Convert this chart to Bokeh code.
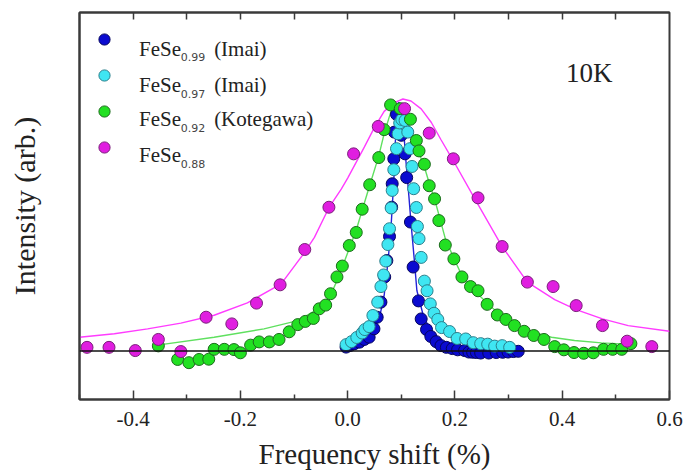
from bokeh.plotting import figure
from bokeh.models import Range1d, LinearAxis, FixedTicker, Span, Label, Legend, LegendItem
from bokeh.embed import file_html
from bokeh.resources import INLINE

# ---- NMR line shapes at 10 K: frequency shift (%) vs normalised intensity ----

# FeSe0.99 (Imai)
fese099_shift = [-0.003, 0.004, 0.012, 0.022, 0.031, 0.040, 0.049, 0.055, 0.062, 0.069,
                 0.073, 0.078, 0.082, 0.083, 0.086, 0.087, 0.091, 0.100, 0.107, 0.110,
                 0.117, 0.122, 0.132, 0.137, 0.147, 0.155, 0.165, 0.174, 0.184, 0.195,
                 0.205, 0.218, 0.226, 0.233, 0.240, 0.248, 0.263, 0.277, 0.289, 0.299,
                 0.309, 0.318]
fese099_int = [0.016, 0.022, 0.029, 0.036, 0.047, 0.056, 0.090, 0.137, 0.198, 0.300,
               0.366, 0.464, 0.582, 0.677, 0.778, 0.886, 0.958, 0.873, 0.798, 0.702,
               0.522, 0.340, 0.203, 0.130, 0.087, 0.059, 0.038, 0.022, 0.015, 0.010,
               0.005, 0.002, -0.004, -0.005, -0.006, -0.008, -0.008, -0.006, -0.005, -0.004,
               -0.002, -0.001]
fese099_fit_shift = [-0.003, 0.025, 0.044, 0.059, 0.068, 0.075, 0.081, 0.086, 0.089, 0.092,
                     0.095, 0.099, 0.103, 0.105, 0.109, 0.114, 0.118, 0.124, 0.129, 0.140,
                     0.156, 0.174, 0.202, 0.249, 0.318]
fese099_fit_int = [0.014, 0.034, 0.067, 0.132, 0.225, 0.358, 0.508, 0.690, 0.852, 0.974,
                   1.006, 0.998, 0.962, 0.873, 0.759, 0.630, 0.520, 0.374, 0.245, 0.152,
                   0.071, 0.030, 0.010, 0.002, 0.000]

# FeSe0.97 (Imai)
fese097_shift = [-0.003, 0.007, 0.017, 0.027, 0.032, 0.040, 0.047, 0.056, 0.062, 0.067,
                 0.071, 0.075, 0.078, 0.081, 0.083, 0.086, 0.091, 0.094, 0.097, 0.101,
                 0.107, 0.112, 0.116, 0.120, 0.123, 0.128, 0.130, 0.133, 0.137, 0.143,
                 0.148, 0.154, 0.161, 0.168, 0.175, 0.190, 0.204, 0.220, 0.234, 0.248,
                 0.261, 0.274, 0.288, 0.302]
fese097_int = [0.026, 0.038, 0.055, 0.073, 0.087, 0.099, 0.144, 0.198, 0.261, 0.308,
               0.364, 0.431, 0.495, 0.579, 0.650, 0.734, 0.819, 0.879, 0.923, 0.937,
               0.933, 0.886, 0.819, 0.747, 0.657, 0.581, 0.504, 0.455, 0.379, 0.283,
               0.244, 0.191, 0.153, 0.128, 0.095, 0.079, 0.051, 0.049, 0.034, 0.030,
               0.028, 0.020, 0.022, 0.015]

# FeSe0.92 (Kotegawa)
fese092_shift = [-0.353, -0.317, -0.296, -0.277, -0.259, -0.249, -0.230, -0.212, -0.200, -0.181,
                 -0.165, -0.146, -0.128, -0.109, -0.093, -0.079, -0.064, -0.053, -0.041, -0.032,
                 -0.020, -0.010, 0.003, 0.016, 0.027, 0.041, 0.058, 0.068, 0.080, 0.098,
                 0.117, 0.128, 0.133, 0.143, 0.152, 0.162, 0.170, 0.182, 0.198, 0.213,
                 0.229, 0.243, 0.260, 0.279, 0.295, 0.311, 0.329, 0.347, 0.366, 0.386,
                 0.403, 0.422, 0.440, 0.458, 0.477, 0.494, 0.511, 0.528]
fese092_int = [0.021, -0.034, -0.047, -0.034, -0.033, 0.007, 0.007, 0.006, -0.007, 0.024,
               0.037, 0.037, 0.047, 0.078, 0.107, 0.120, 0.132, 0.171, 0.186, 0.232,
               0.300, 0.344, 0.427, 0.480, 0.574, 0.673, 0.783, 0.896, 0.996, 0.981,
               0.938, 0.852, 0.810, 0.756, 0.669, 0.616, 0.528, 0.429, 0.373, 0.300,
               0.261, 0.244, 0.189, 0.146, 0.128, 0.103, 0.080, 0.063, 0.047, 0.018,
               0.005, -0.006, -0.009, -0.007, 0.007, 0.007, 0.007, 0.030]
fese092_fit_shift = [-0.348, -0.249, -0.156, -0.093, -0.050, -0.032, -0.020, -0.010, 0.003, 0.016,
                     0.027, 0.041, 0.058, 0.068, 0.080, 0.087, 0.098, 0.109, 0.122, 0.133,
                     0.143, 0.152, 0.162, 0.174, 0.182, 0.198, 0.212, 0.236, 0.268, 0.299,
                     0.336, 0.380, 0.423, 0.473, 0.510]
fese092_fit_int = [0.026, 0.056, 0.090, 0.123, 0.177, 0.225, 0.285, 0.340, 0.415, 0.490,
                   0.570, 0.670, 0.790, 0.880, 0.965, 0.995, 0.990, 0.945, 0.870, 0.800,
                   0.745, 0.680, 0.615, 0.520, 0.455, 0.375, 0.310, 0.245, 0.177, 0.123,
                   0.083, 0.056, 0.043, 0.033, 0.029]

# FeSe0.88
fese088_shift = [-0.486, -0.445, -0.396, -0.353, -0.311, -0.264, -0.216, -0.170, -0.126, -0.080,
                 -0.035, 0.011, 0.057, 0.106, 0.152, 0.197, 0.243, 0.288, 0.335, 0.383,
                 0.426, 0.475, 0.521, 0.567]
fese088_int = [0.015, 0.015, 0.002, 0.047, -0.002, 0.137, 0.110, 0.194, 0.268, 0.411,
               0.582, 0.798, 0.909, 0.981, 0.882, 0.778, 0.620, 0.423, 0.279, 0.261,
               0.184, 0.103, 0.040, 0.018]
fese088_fit_shift = [-0.500, -0.435, -0.373, -0.311, -0.249, -0.187, -0.124, -0.080, -0.062, -0.035,
                     -0.012, 0.000, 0.031, 0.050, 0.068, 0.087, 0.103, 0.118, 0.137, 0.156,
                     0.174, 0.197, 0.236, 0.288, 0.335, 0.386, 0.426, 0.475, 0.523, 0.600]
fese088_fit_int = [0.056, 0.070, 0.090, 0.113, 0.145, 0.195, 0.272, 0.400, 0.460, 0.580,
                   0.655, 0.700, 0.825, 0.905, 0.970, 1.005, 1.020, 1.012, 0.980, 0.925,
                   0.855, 0.770, 0.620, 0.423, 0.279, 0.208, 0.168, 0.130, 0.103, 0.080]

# axis ticks
x_major_ticks = [-0.4, -0.2, 0.0, 0.2, 0.4, 0.6]
x_tick_labels = ["-0.4", "-0.2", "0.0", "0.2", "0.4", "0.6"]
x_minor_ticks = [-0.5, -0.3, -0.1, 0.1, 0.3, 0.5]

# ---- figure ----
SERIF = "Liberation Serif"
FRAME = "#3a3a3a"

p = figure(width=686, height=474, output_backend="svg", toolbar_location=None,
           x_range=Range1d(-0.5, 0.6), y_range=Range1d(-0.196, 1.370),
           min_border_left=79, min_border_right=17, min_border_top=12, min_border_bottom=75,
           x_axis_label="Frequency shift (%)", y_axis_label="Intensity (arb.)")
p.grid.visible = False
p.background_fill_color = "white"
p.border_fill_color = "white"
p.outline_line_color = FRAME
p.outline_line_width = 2

# bottom axis: inward ticks, labelled every 0.2
xa = p.xaxis[0]
xa.ticker = FixedTicker(ticks=x_major_ticks, minor_ticks=x_minor_ticks)
xa.major_label_overrides = dict(zip(x_major_ticks, x_tick_labels))
xa.major_tick_in = 9
xa.major_tick_out = 0
xa.minor_tick_in = 5
xa.minor_tick_out = 0
xa.axis_line_width = 2
xa.axis_line_color = FRAME
xa.major_tick_line_color = FRAME
xa.minor_tick_line_color = FRAME
xa.major_tick_line_width = 1.5
xa.minor_tick_line_width = 1.5
xa.major_label_standoff = 12
xa.major_label_text_font = SERIF
xa.major_label_text_font_size = "21px"
xa.major_label_text_color = "#222222"
xa.axis_label_text_font = SERIF
xa.axis_label_text_font_style = "normal"
xa.axis_label_text_font_size = "29px"
xa.axis_label_text_color = "#222222"
xa.axis_label_standoff = 9

# left axis: title only
ya = p.yaxis[0]
ya.ticker = FixedTicker(ticks=[])
ya.axis_line_width = 2
ya.axis_line_color = FRAME
ya.axis_label_text_font = SERIF
ya.axis_label_text_font_style = "normal"
ya.axis_label_text_font_size = "30px"
ya.axis_label_text_color = "#222222"
ya.axis_label_standoff = 39

# top axis: bare inward ticks every 0.1
top_ticks = sorted(t for t in x_major_ticks + x_minor_ticks if -0.5 < t < 0.6)
top = LinearAxis(ticker=FixedTicker(ticks=top_ticks),
                 major_label_overrides={t: "" for t in top_ticks},
                 major_tick_in=7, major_tick_out=0, minor_tick_in=0, minor_tick_out=0,
                 axis_line_width=2, axis_line_color=FRAME,
                 major_tick_line_color=FRAME, major_tick_line_width=1.5)
p.add_layout(top, "above")

# zero-intensity baseline
p.add_layout(Span(location=0, dimension="width", line_color="#111111", line_width=1.5))

# fitted curves
p.line(fese099_fit_shift, fese099_fit_int, line_color="#2323d8", line_width=1.4)
p.line(fese092_fit_shift, fese092_fit_int, line_color="#5fe05f", line_width=1.4)
p.line(fese088_fit_shift, fese088_fit_int, line_color="#ff3cff", line_width=1.4)

# measured spectra
MS = 12
r099 = p.scatter(fese099_shift, fese099_int, size=MS, fill_color="#0b0bd0",
                 line_color="#05055e", line_width=1)
r097 = p.scatter(fese097_shift, fese097_int, size=MS, fill_color="#3fe6f2",
                 line_color="#2a7f8c", line_width=1)
r092 = p.scatter(fese092_shift, fese092_int, size=MS, fill_color="#22e022",
                 line_color="#1d6b1d", line_width=1)
r088 = p.scatter(fese088_shift, fese088_int, size=MS, fill_color="#e01ee0",
                 line_color="#7a1f7a", line_width=1)

# legend symbols (text is set separately to allow subscripts)
legend = Legend(items=[LegendItem(label=" ", renderers=[r]) for r in (r099, r097, r092, r088)],
                location="top_left", margin=0, padding=11, glyph_width=28, glyph_height=32,
                spacing=4, background_fill_alpha=0, border_line_alpha=0,
                label_text_font_size="4px", label_standoff=0)
p.add_layout(legend)

legend_rows = [("0.99", "(Imai)"), ("0.97", "(Imai)"), ("0.92", "(Kotegawa)"), ("0.88", "")]
row_base_y = [1.224, 1.075, 0.939, 0.792]
sub_drop = 0.036
for (sub, suffix), yb in zip(legend_rows, row_base_y):
    p.add_layout(Label(x=-0.389, y=yb, text="FeSe", text_font=SERIF, text_font_size="21px",
                       text_color="#222222", text_baseline="alphabetic"))
    p.add_layout(Label(x=-0.311, y=yb - sub_drop, text=sub, text_font="DejaVu Sans",
                       text_font_size="11px", text_color="#444444", text_baseline="alphabetic"))
    if suffix:
        p.add_layout(Label(x=-0.249, y=yb, text=suffix, text_font=SERIF, text_font_size="21px",
                           text_color="#222222", text_baseline="alphabetic"))

p.add_layout(Label(x=0.407, y=1.124, text="10K", text_font=SERIF, text_font_size="27px",
                   text_color="#222222", text_baseline="alphabetic"))

open("out.html", "w").write(file_html(p, INLINE))
